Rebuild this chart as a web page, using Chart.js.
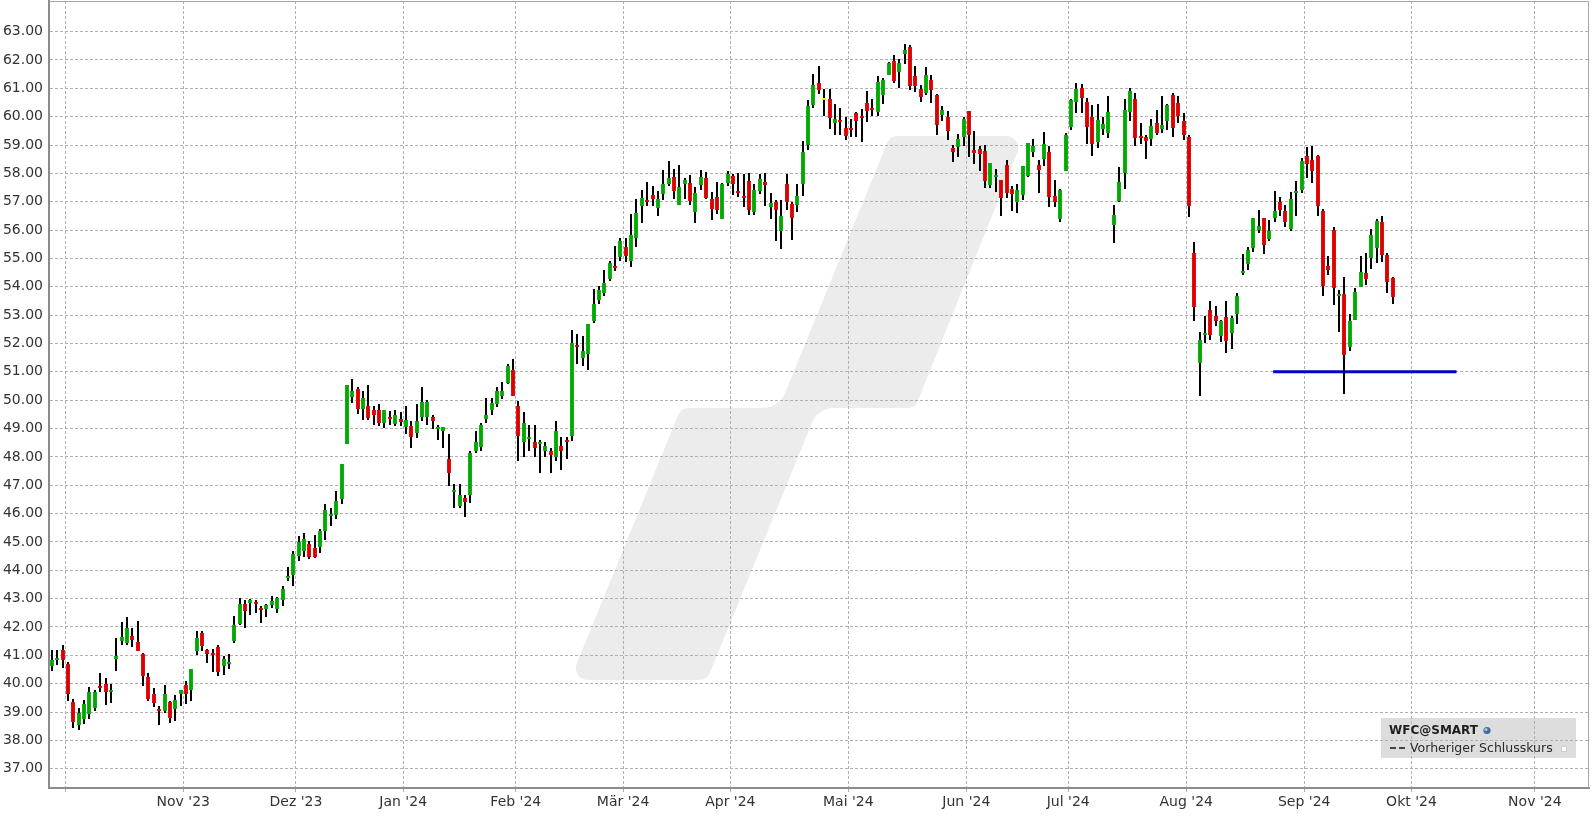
<!DOCTYPE html>
<html>
<head>
<meta charset="utf-8">
<script src="https://cdn.jsdelivr.net/npm/chart.js@4.4.1/dist/chart.umd.min.js"></script>
<style>
  html, body { margin: 0; padding: 0; background: #fff; }
  #wrap { width: 1596px; height: 816px; position: relative; }
</style>
</head>
<body>
<div id="wrap"><canvas id="wfcChart"></canvas></div>
<script>
  // WFC daily candles, one entry per trading day (27 Sep 2023 .. 25 Sep 2024)
  const opens = [
    40.64, 40.85, 41.20, 40.71, 39.37, 38.54, 38.76, 38.92, 39.13, 39.93,
    39.99, 39.69, 40.86, 41.49, 41.45, 41.68, 41.48, 41.06, 40.25, 39.62,
    39.08, 39.02, 39.37, 39.09, 39.65, 39.97, 39.76, 41.16, 41.80, 41.18,
    41.06, 41.31, 40.64, 40.71, 41.49, 42.10, 42.81, 42.83, 42.85, 42.64,
    42.65, 42.78, 42.65, 42.96, 43.71, 43.82, 44.52, 44.69, 44.94, 44.80,
    44.81, 45.38, 45.91, 45.94, 46.51, 48.45, 50.11, 50.41, 49.68, 49.81,
    49.64, 49.67, 49.19, 49.42, 49.16, 49.35, 49.06, 49.09, 48.84, 49.40,
    49.40, 49.42, 49.00, 48.91, 47.94, 46.75, 46.25, 46.56, 46.65, 48.22,
    48.34, 49.35, 49.67, 49.87, 50.16, 50.62, 51.05, 49.81, 48.52, 48.62,
    48.51, 48.44, 48.20, 48.22, 48.01, 48.39, 48.60, 48.72, 51.93, 51.50,
    51.64, 52.81, 53.52, 53.77, 54.26, 54.72, 55.04, 55.39, 54.90, 55.71,
    56.84, 57.06, 57.23, 56.77, 57.27, 57.62, 57.87, 56.88, 57.62, 57.66,
    56.63, 57.59, 57.83, 57.09, 57.16, 56.38, 57.66, 57.91, 57.38, 57.20,
    57.73, 56.63, 57.38, 57.69, 56.81, 56.99, 55.96, 57.62, 56.92, 56.88,
    57.62, 59.00, 60.41, 61.19, 60.60, 60.62, 59.78, 59.88, 59.60, 59.60,
    60.13, 60.02, 60.48, 60.31, 60.16, 60.77, 61.47, 61.97, 61.58, 62.21,
    62.46, 61.44, 60.98, 60.84, 61.30, 60.77, 60.06, 59.99, 58.89, 58.94,
    59.28, 60.20, 58.82, 58.86, 58.79, 57.59, 57.87, 57.76, 58.29, 57.44,
    56.98, 57.23, 57.90, 58.75, 58.29, 58.50, 58.77, 57.21, 56.39, 58.10,
    59.62, 60.51, 61.00, 60.51, 59.98, 59.09, 59.55, 59.41, 56.18, 57.03,
    58.03, 60.15, 60.61, 59.30, 59.27, 59.20, 59.76, 59.55, 59.83, 60.76,
    60.47, 59.83, 59.27, 55.19, 51.31, 52.29, 53.18, 52.96, 52.26, 52.93,
    52.36, 53.04, 54.50, 54.79, 55.35, 56.02, 56.44, 55.70, 56.41, 57.00,
    56.69, 56.05, 57.29, 57.43, 58.62, 58.48, 58.62, 56.69, 54.73, 56.00,
    53.67, 53.74, 51.87, 52.82, 53.99, 54.48, 55.01, 55.36, 56.28, 55.12,
    54.31
  ];
  const highs = [
    41.20, 41.20, 41.38, 40.78, 39.47, 39.13, 39.44, 39.90, 39.79, 40.39,
    40.21, 39.99, 41.62, 42.16, 42.36, 41.95, 42.22, 41.09, 40.39, 39.83,
    39.23, 39.97, 39.40, 39.59, 39.79, 40.11, 40.53, 41.87, 41.87, 41.21,
    41.21, 41.38, 40.99, 41.06, 42.40, 43.02, 42.95, 42.98, 42.95, 42.74,
    42.81, 43.10, 43.04, 43.45, 44.12, 44.69, 45.22, 45.33, 45.04, 45.26,
    45.44, 46.35, 46.21, 46.78, 47.76, 50.55, 50.76, 50.48, 50.31, 50.55,
    49.81, 49.85, 49.67, 49.61, 49.64, 49.58, 49.78, 49.28, 49.85, 50.48,
    50.01, 49.46, 49.11, 49.07, 48.79, 47.06, 47.06, 46.64, 48.19, 48.93,
    49.21, 50.09, 50.08, 50.48, 50.65, 51.26, 51.44, 49.96, 49.58, 49.11,
    49.11, 48.61, 48.52, 48.32, 49.28, 48.71, 48.71, 52.46, 52.32, 52.25,
    52.67, 53.91, 54.01, 54.58, 54.90, 55.43, 55.71, 55.71, 56.56, 57.09,
    57.41, 57.69, 57.55, 57.38, 58.12, 58.44, 58.15, 58.29, 57.83, 57.94,
    57.52, 58.12, 58.05, 57.34, 57.69, 57.66, 58.08, 57.98, 58.01, 57.98,
    58.01, 57.62, 57.98, 58.01, 57.30, 57.06, 57.06, 57.98, 56.99, 57.62,
    59.14, 60.59, 61.51, 61.79, 60.98, 60.98, 60.45, 60.31, 59.99, 59.92,
    60.16, 60.27, 60.91, 60.62, 61.44, 61.37, 61.93, 62.18, 62.04, 62.57,
    62.53, 61.79, 61.12, 61.76, 61.47, 60.80, 60.38, 60.20, 59.00, 59.39,
    59.99, 60.20, 59.49, 58.96, 59.00, 58.36, 58.15, 57.76, 58.47, 57.55,
    57.62, 58.26, 59.07, 59.21, 58.47, 59.46, 58.98, 57.78, 57.46, 59.44,
    60.61, 61.18, 61.15, 60.65, 60.40, 60.44, 59.98, 60.72, 56.89, 58.24,
    60.61, 61.00, 60.83, 59.76, 59.37, 59.91, 60.22, 60.72, 60.44, 60.83,
    60.72, 60.12, 59.34, 55.58, 52.40, 52.96, 53.49, 53.32, 52.82, 53.49,
    52.96, 53.78, 55.17, 55.42, 56.44, 56.72, 56.44, 56.37, 57.39, 57.15,
    56.90, 57.36, 57.74, 58.55, 58.94, 58.98, 58.66, 56.76, 55.08, 56.11,
    53.88, 54.34, 53.04, 53.95, 55.08, 55.19, 56.04, 56.40, 56.51, 55.19,
    54.34
  ];
  const lows = [
    40.44, 40.67, 40.54, 39.40, 38.43, 38.35, 38.57, 38.75, 39.05, 39.69,
    39.25, 39.31, 40.44, 41.38, 41.38, 41.31, 41.14, 39.91, 39.40, 39.19,
    38.54, 38.96, 38.61, 38.68, 39.20, 39.29, 39.39, 41.02, 41.16, 40.72,
    40.40, 40.26, 40.32, 40.51, 41.42, 42.08, 41.96, 42.41, 42.48, 42.13,
    42.36, 42.67, 42.48, 42.75, 43.61, 43.46, 44.34, 44.48, 44.40, 44.44,
    44.62, 45.08, 45.55, 45.80, 46.33, 48.45, 49.89, 49.51, 49.29, 49.29,
    49.12, 49.08, 49.01, 49.12, 49.08, 49.08, 48.80, 48.31, 48.67, 49.26,
    49.12, 49.00, 48.58, 48.31, 46.96, 46.20, 46.18, 45.88, 46.36, 48.13,
    48.22, 49.21, 49.46, 49.75, 50.05, 50.58, 50.13, 47.85, 48.01, 48.20,
    47.99, 47.42, 47.99, 47.42, 47.85, 47.54, 47.94, 48.57, 51.29, 51.22,
    51.08, 52.71, 53.38, 53.66, 54.19, 54.54, 54.90, 54.86, 54.69, 55.39,
    56.24, 56.84, 56.84, 56.49, 57.06, 57.55, 57.09, 56.88, 57.09, 56.88,
    56.24, 57.41, 57.09, 56.35, 56.56, 56.38, 57.55, 57.23, 57.16, 56.81,
    56.53, 56.53, 57.27, 56.84, 56.38, 55.61, 55.32, 56.70, 55.64, 56.63,
    57.20, 58.82, 60.31, 60.80, 60.02, 59.56, 59.35, 59.35, 59.18, 59.28,
    59.28, 59.10, 59.81, 60.02, 60.02, 60.45, 61.47, 61.19, 61.01, 61.86,
    60.94, 60.87, 60.52, 60.77, 60.48, 59.35, 59.85, 59.18, 58.40, 58.57,
    58.96, 58.57, 58.33, 58.08, 57.48, 57.48, 57.34, 56.49, 57.13, 56.67,
    56.60, 57.06, 57.87, 58.57, 57.30, 58.26, 56.80, 56.80, 56.29, 58.10,
    59.52, 60.12, 60.12, 59.05, 58.63, 58.88, 59.34, 59.23, 55.54, 57.00,
    57.46, 59.83, 58.95, 59.05, 58.49, 58.98, 59.34, 59.41, 59.52, 59.30,
    59.76, 59.16, 56.47, 52.80, 50.15, 52.01, 52.12, 52.61, 52.05, 51.66,
    51.80, 52.68, 54.40, 54.58, 55.21, 55.88, 55.17, 55.63, 56.27, 56.48,
    56.12, 55.98, 56.48, 57.32, 57.85, 57.67, 56.51, 53.66, 54.41, 53.35,
    52.40, 50.21, 51.73, 52.82, 53.99, 54.06, 54.62, 54.84, 54.87, 53.78,
    53.39
  ];
  const closes = [
    40.85, 40.92, 40.85, 39.62, 38.66, 38.98, 39.30, 39.69, 39.69, 39.84,
    39.70, 39.76, 40.96, 41.66, 41.97, 41.53, 41.16, 40.28, 39.47, 39.31,
    39.02, 39.65, 38.78, 39.44, 39.76, 39.62, 40.51, 41.61, 41.34, 41.04,
    41.00, 40.40, 40.88, 40.78, 42.08, 42.81, 42.55, 42.95, 42.80, 42.60,
    42.77, 42.92, 43.02, 43.34, 43.77, 44.57, 45.00, 45.12, 44.48, 44.48,
    45.40, 46.11, 46.00, 46.46, 47.76, 50.52, 50.31, 49.68, 50.09, 49.38,
    49.47, 49.19, 49.64, 49.33, 49.49, 49.22, 49.31, 48.69, 49.28, 49.92,
    49.92, 49.28, 49.07, 49.04, 47.42, 46.81, 46.67, 46.42, 48.12, 48.54,
    49.11, 49.48, 49.89, 50.31, 50.34, 51.20, 50.16, 48.72, 49.19, 48.69,
    48.31, 48.49, 48.38, 48.05, 48.93, 48.21, 48.53, 52.02, 51.86, 51.75,
    52.67, 53.38, 53.87, 54.12, 54.83, 54.65, 55.61, 55.08, 55.82, 56.60,
    57.13, 56.99, 57.09, 57.09, 57.62, 57.83, 57.38, 57.52, 57.76, 57.02,
    57.30, 57.87, 57.13, 56.74, 56.70, 57.62, 57.98, 57.62, 57.30, 57.13,
    56.70, 57.41, 57.80, 57.59, 56.95, 56.70, 56.49, 56.99, 56.42, 57.20,
    58.75, 60.38, 61.12, 60.94, 60.60, 59.95, 59.92, 59.81, 59.32, 59.53,
    59.85, 59.95, 60.20, 60.24, 61.22, 61.30, 61.90, 61.26, 61.90, 62.35,
    61.08, 61.08, 60.69, 61.47, 60.94, 59.71, 60.24, 59.49, 58.75, 59.21,
    59.92, 59.35, 58.72, 58.68, 57.73, 58.36, 57.94, 57.13, 57.30, 57.27,
    57.41, 58.26, 59.07, 58.96, 58.12, 59.03, 57.18, 57.00, 57.42, 59.37,
    60.58, 60.97, 60.65, 59.62, 59.02, 59.87, 59.73, 60.15, 56.54, 57.71,
    60.22, 60.90, 59.23, 59.23, 59.13, 59.66, 59.44, 59.69, 60.40, 59.59,
    60.01, 59.34, 56.86, 53.28, 52.12, 52.36, 52.29, 52.79, 52.79, 52.08,
    52.89, 53.67, 54.57, 55.31, 56.44, 56.16, 55.46, 55.95, 56.69, 56.72,
    56.27, 57.08, 57.36, 58.45, 58.34, 58.10, 56.86, 54.01, 54.59, 53.95,
    53.74, 51.59, 52.79, 53.81, 54.52, 54.27, 55.82, 56.32, 55.12, 54.16,
    53.64
  ];

  // month gridlines sit at the first trading day of each month
  const monthLabels = ["", "Nov '23", "Dez '23", "Jan '24", "Feb '24", "Mär '24", "Apr '24",
                       "Mai '24", "Jun '24", "Jul '24", "Aug '24", "Sep '24", "Okt '24", "Nov '24"];
  const monthStartIndex = [3, 25, 46, 66, 87, 107, 127, 149, 171, 190, 212, 234, 254, 277];
  const priceTicks = [37, 38, 39, 40, 41, 42, 43, 44, 45, 46, 47, 48, 49, 50, 51, 52, 53, 54, 55,
                      56, 57, 58, 59, 60, 61, 62, 63];

  // blue horizontal line drawn by the user
  const supportLevel = 51.0;
  const supportFrom = 227.7;
  const supportTo = 261.9;

  const UP = '#00aa00', DOWN = '#dd0000', FLAT = '#eeee00';

  const bodies = opens.map((o, i) => ({ x: i, y: [Math.min(o, closes[i]), Math.max(o, closes[i])] }));
  const wicks = highs.map((h, i) => ({ x: i, y: [lows[i], h] }));
  const bodyColors = opens.map((o, i) => closes[i] > o ? UP : (closes[i] < o ? DOWN : FLAT));

  // snap candle rectangles onto whole pixels so they stay crisp
  const crispBars = {
    id: 'crispBars',
    afterDatasetsUpdate(chart) {
      chart.data.datasets.forEach((ds, di) => {
        const meta = chart.getDatasetMeta(di);
        if (meta.type !== 'bar') return;
        meta.data.forEach(el => {
          el.x = Math.round(el.x);
          el.y = Math.round(el.y);
          el.base = Math.round(el.base);
          if (Math.abs(el.base - el.y) < 2) el.base = el.y + 2;
        });
      });
    }
  };

  // grey logo in the background, drawn before the grid
  const backdrop = {
    id: 'backdrop',
    beforeDraw(chart) {
      const ctx = chart.ctx;
      const a = chart.chartArea;
      ctx.save();
      const pts = [[570, 680], [707, 680], [818, 408], [915, 408], [1024, 136], [890, 136], [779, 408], [681, 408]];
      const radii = [12, 12, 24, 12, 12, 12, 24, 12];
      const n = pts.length;
      ctx.beginPath();
      ctx.moveTo((pts[n - 1][0] + pts[0][0]) / 2, (pts[n - 1][1] + pts[0][1]) / 2);
      for (let k = 0; k < n; k++) {
        const p = pts[k], q = pts[(k + 1) % n];
        ctx.arcTo(p[0], p[1], q[0], q[1], radii[k]);
      }
      ctx.closePath();
      ctx.fillStyle = '#ececec';
      ctx.fill();

      // legend box background
      ctx.fillStyle = '#dddddd';
      ctx.fillRect(a.right - 208, a.bottom - 70, 195, 40);
      ctx.restore();
    },
    afterDraw(chart) {
      const ctx = chart.ctx;
      const a = chart.chartArea;
      ctx.save();
      // top and right frame
      ctx.strokeStyle = '#a6a6a6';
      ctx.lineWidth = 1;
      ctx.beginPath();
      ctx.moveTo(a.left, a.top + 0.5);
      ctx.lineTo(a.right - 0.5, a.top + 0.5);
      ctx.lineTo(a.right - 0.5, a.bottom);
      ctx.stroke();

      // legend text
      const bx = a.right - 208, by = a.bottom - 70;
      ctx.textBaseline = 'middle';
      ctx.fillStyle = '#1e1e1e';
      ctx.font = 'bold 12px "DejaVu Sans"';
      ctx.fillText('WFC@SMART', bx + 8, by + 12.5);
      const gx = bx + 106, gy = by + 12.5;
      ctx.beginPath();
      ctx.arc(gx, gy, 3.6, 0, Math.PI * 2);
      ctx.fillStyle = '#3f6ea6';
      ctx.fill();
      ctx.beginPath();
      ctx.arc(gx - 1, gy - 1, 1.6, 0, Math.PI * 2);
      ctx.fillStyle = '#a9c4e4';
      ctx.fill();

      ctx.fillStyle = '#444';
      ctx.fillRect(bx + 9, by + 29, 6, 2);
      ctx.fillRect(bx + 18, by + 29, 6, 2);
      ctx.fillStyle = '#2a2a2a';
      ctx.font = '12.5px "DejaVu Sans"';
      ctx.fillText('Vorheriger Schlusskurs', bx + 29, by + 30.5);
      ctx.fillStyle = '#ffffff';
      ctx.fillRect(bx + 180, by + 28, 6, 6);
      ctx.strokeStyle = '#cfcfcf';
      ctx.strokeRect(bx + 180.5, by + 28.5, 5, 5);
      ctx.restore();
    }
  };

  Chart.defaults.font.family = '"DejaVu Sans", Verdana, sans-serif';
  Chart.defaults.font.size = 14;
  Chart.defaults.color = '#333';

  const ctx = document.getElementById('wfcChart').getContext('2d');

  const wfcChart = new Chart(ctx, {
    type: 'bar',
    data: {
      datasets: [
        {
          label: 'bodies',
          data: bodies,
          backgroundColor: bodyColors,
          maxBarThickness: 4,
          minBarLength: 2,
          grouped: false,
          order: 0
        },
        {
          label: 'wicks',
          data: wicks,
          backgroundColor: '#000000',
          maxBarThickness: 2,
          grouped: false,
          order: 1
        },
        {
          type: 'line',
          label: 'support',
          data: [{ x: supportFrom, y: supportLevel }, { x: supportTo, y: supportLevel }],
          borderColor: '#0000cc',
          borderWidth: 3,
          pointRadius: 0,
          fill: false,
          order: 2
        }
      ]
    },
    options: {
      responsive: true,
      maintainAspectRatio: false,
      animation: false,
      layout: { padding: { top: 1, right: 7, left: 0, bottom: 0 } },
      plugins: {
        legend: { display: false },
        tooltip: { enabled: false }
      },
      scales: {
        x: {
          type: 'linear',
          min: -0.54,
          max: 286.6,
          offset: false,
          afterBuildTicks: scale => {
            scale.ticks = monthStartIndex.map(i => ({ value: i - 0.5 }));
          },
          afterFit: scale => {
            scale.height = 28;
            scale.paddingLeft = 0;
            scale.paddingRight = 0;
          },
          ticks: {
            autoSkip: false,
            maxRotation: 0,
            padding: 2,
            color: '#333',
            callback: (value, index) => monthLabels[index]
          },
          grid: {
            offset: false,
            color: '#b0b0b0',
            lineWidth: 1,
            tickLength: 4
          },
          border: { display: true, color: '#8c8c8c', width: 2, dash: [3, 2] }
        },
        y: {
          type: 'linear',
          min: 36.32,
          max: 64.08,
          afterBuildTicks: scale => {
            scale.ticks = priceTicks.map(v => ({ value: v }));
          },
          afterFit: scale => {
            scale.width = 49;
            scale.paddingTop = 0;
            scale.paddingBottom = 0;
          },
          ticks: {
            padding: 6,
            color: '#333',
            callback: value => value.toFixed(2)
          },
          grid: {
            color: '#b0b0b0',
            lineWidth: 1,
            drawTicks: false
          },
          border: { display: true, color: '#8c8c8c', width: 2, dash: [3, 2] }
        }
      }
    },
    plugins: [crispBars, backdrop]
  });
</script>
</body>
</html>
